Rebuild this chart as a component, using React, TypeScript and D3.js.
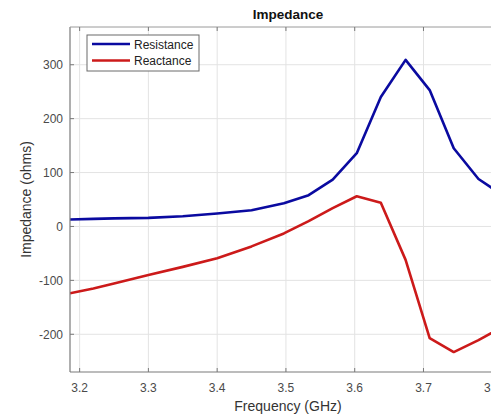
import React from "react";
import * as d3 from "d3";

const freqs = [3.186, 3.22, 3.25, 3.3, 3.35, 3.4, 3.45, 3.497, 3.533, 3.568, 3.603, 3.638, 3.674, 3.709, 3.744, 3.78, 3.815];
const resistance = [13, 14, 15, 16, 19, 24, 30, 43, 58, 87, 136, 240, 309, 253, 145, 88, 58];
const reactance = [-124, -115, -106, -90, -75, -59, -37, -13, 10, 34, 56, 44, -62, -207, -233, -211, -186];
const xTicks = [3.2, 3.3, 3.4, 3.5, 3.6, 3.7, 3.8];
const yTicks = [-200, -100, 0, 100, 200, 300];
const seriesNames = ["Resistance", "Reactance"];
const seriesColors = ["#0a0aa0", "#cc1a1a"];

export default function App() {
  const W = 491, H = 415;
  const left = 70, right = 506, top = 27, bottom = 372;
  const x = d3.scaleLinear().domain([3.186, 3.82]).range([left, right]);
  const y = d3.scaleLinear().domain([-270, 370]).range([bottom, top]);
  const line = d3.line<number>().x((_, i) => x(freqs[i])).y((d) => y(d));
  const series = [resistance, reactance];
  const font = "'Liberation Sans', Arial, sans-serif";
  return (
    <svg width={W} height={H} style={{ position: "absolute", left: 0, top: 0, background: "#fff" }} fontFamily={font}>
      <defs>
        <clipPath id="plot">
          <rect x={left} y={top} width={right - left} height={bottom - top} />
        </clipPath>
      </defs>
      {xTicks.map((t) => (
        <line key={"gx" + t} x1={x(t)} x2={x(t)} y1={top} y2={bottom} stroke="#e3e3e3" strokeWidth={1} />
      ))}
      {yTicks.map((t) => (
        <line key={"gy" + t} x1={left} x2={right} y1={y(t)} y2={y(t)} stroke="#e3e3e3" strokeWidth={1} />
      ))}
      <g clipPath="url(#plot)">
        {series.map((s, i) => (
          <path key={i} d={line(s) || ""} fill="none" stroke={seriesColors[i]} strokeWidth={2.6} strokeLinejoin="round" />
        ))}
      </g>
      <line x1={left} x2={left} y1={top} y2={bottom} stroke="#7a7a7a" strokeWidth={1.2} />
      <line x1={left} x2={right} y1={bottom} y2={bottom} stroke="#7a7a7a" strokeWidth={1.2} />
      <line x1={left} x2={right} y1={top} y2={top} stroke="#9a9a9a" strokeWidth={1} />
      {xTicks.map((t) => (
        <g key={"tx" + t}>
          <line x1={x(t)} x2={x(t)} y1={bottom} y2={bottom - 4} stroke="#7a7a7a" />
          <line x1={x(t)} x2={x(t)} y1={top} y2={top + 4} stroke="#7a7a7a" />
          <text x={x(t)} y={392} textAnchor="middle" fontSize={12} fill="#4a4a4a">{t.toFixed(1)}</text>
        </g>
      ))}
      {yTicks.map((t) => (
        <g key={"ty" + t}>
          <line x1={left} x2={left + 4} y1={y(t)} y2={y(t)} stroke="#7a7a7a" />
          <text x={left - 7} y={y(t) + 4.5} textAnchor="end" fontSize={12} fill="#4a4a4a">{t}</text>
        </g>
      ))}
      <text x={288} y={19} textAnchor="middle" fontSize={13.5} fontWeight="bold" fill="#111">Impedance</text>
      <text x={288} y={411} textAnchor="middle" fontSize={14} fill="#333">Frequency (GHz)</text>
      <text transform={`translate(31,${(top + bottom) / 2}) rotate(-90)`} textAnchor="middle" fontSize={14} fill="#333">Impedance (ohms)</text>
      <rect x={87} y={35} width={112} height={36} fill="#fff" stroke="#6a6a6a" strokeWidth={1} />
      {seriesNames.map((n, i) => (
        <g key={n}>
          <line x1={92} x2={130} y1={44 + i * 16.5} y2={44 + i * 16.5} stroke={seriesColors[i]} strokeWidth={2.6} />
          <text x={134} y={48.5 + i * 16.5} fontSize={12} fill="#222">{n}</text>
        </g>
      ))}
    </svg>
  );
}
